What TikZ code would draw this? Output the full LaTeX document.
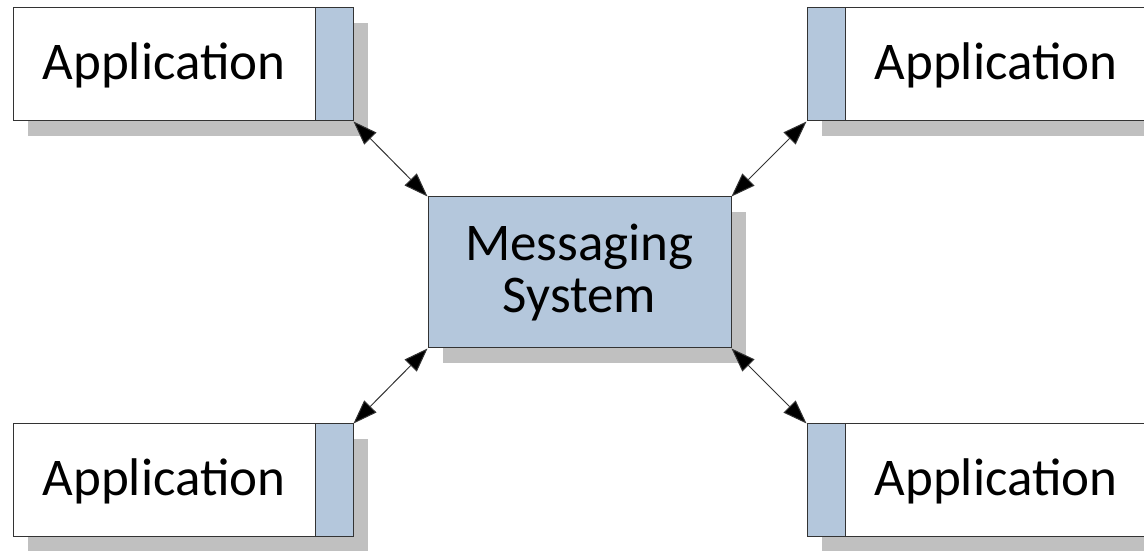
\documentclass[tikz,border=0pt]{standalone}
\usepackage{fontspec}
\setmainfont{Carlito}
\usetikzlibrary{shadows,arrows.meta,calc}
\definecolor{stripblue}{HTML}{B4C7DC}
\definecolor{shadowgray}{HTML}{C0C0C0}
\definecolor{edgegray}{HTML}{333333}
\tikzset{
  boxshadow/.style={drop shadow={shadow xshift=15pt, shadow yshift=-15pt, fill=shadowgray, opacity=1}},
  appframe/.style={rectangle, draw=edgegray, line width=1pt, fill=white,
    minimum width=340pt, minimum height=113pt, inner sep=0pt, boxshadow},
  appstrip/.style={rectangle, draw=edgegray, line width=1pt, fill=stripblue,
    minimum width=38pt, minimum height=113pt, inner sep=0pt},
  apptext/.style={inner sep=0pt, font=\fontsize{53}{53}\selectfont,
    text height=40pt, text depth=9pt},
  hub/.style={rectangle, draw=edgegray, line width=1pt, fill=stripblue,
    minimum width=303pt, minimum height=151pt, inner sep=0pt, align=center,
    font=\fontsize{53}{52}\selectfont, boxshadow},
  conn/.style={draw=edgegray, line width=1pt,
    >={Triangle[length=24pt,width=17pt,fill=black]}, <->}
}
\begin{document}
\begin{tikzpicture}[x=1pt,y=1pt]
  \useasboundingbox (0,0) rectangle (1144,551);

  % central messaging system
  \node[hub] (ms) at (579.5,278.5) {Messaging\\System};

  % applications on the left: strip on the east side
  \node[appframe] (tl) at (183,486.5) {};
  \node[appstrip, anchor=north east] (tls) at (tl.north east) {};
  \node[apptext] (tlt) at ($(tl.center)+(-19,0)$) {Application};

  \node[appframe] (bl) at (183,70.5) {};
  \node[appstrip, anchor=north east] (bls) at (bl.north east) {};
  \node[apptext] (blt) at ($(bl.center)+(-19,0)$) {Application};

  % applications on the right: strip on the west side
  \node[appframe] (tr) at (977,486.5) {};
  \node[appstrip, anchor=north west] (trs) at (tr.north west) {};
  \node[apptext] (trt) at ($(tr.center)+(19,0)$) {Application};

  \node[appframe] (br) at (977,70.5) {};
  \node[appstrip, anchor=north west] (brs) at (br.north west) {};
  \node[apptext] (brt) at ($(br.center)+(19,0)$) {Application};

  % two-way links between the hub and each application
  \draw[conn] (tl.south east) -- (ms.north west);
  \draw[conn] (tr.south west) -- (ms.north east);
  \draw[conn] (bl.north east) -- (ms.south west);
  \draw[conn] (br.north west) -- (ms.south east);
\end{tikzpicture}
\end{document}
